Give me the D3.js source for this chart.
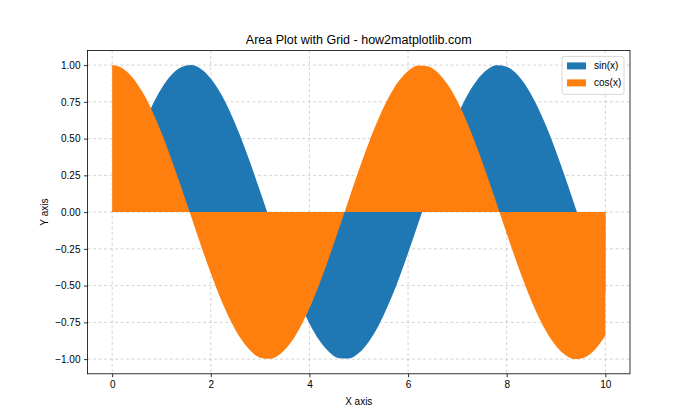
<!DOCTYPE html>
<head>
<meta charset="utf-8">
<title>Area Plot with Grid - how2matplotlib.com</title>
<script src="https://d3js.org/d3.v7.min.js"></script>
<style>
body { margin: 0; background: #fff; }
text { font-family: "Liberation Sans", Arial, sans-serif; fill: #000; }
.grid line { stroke: #b0b0b0; stroke-opacity: 0.7; stroke-width: 0.8; stroke-dasharray: 3,2.5; }
.axis path { stroke: #000; stroke-width: 0.8; }
.axis line { stroke: #000; stroke-width: 0.8; }
.axis text { font-size: 10px; }
</style>
</head>
<body>
<div id="container"></div>
<script>
// ---------- DATA ----------
var xs = [0, 0.2, 0.4, 0.6, 0.8, 1.0, 1.2, 1.4, 1.6, 1.8, 2.0, 2.2, 2.4, 2.6, 2.8, 3.0, 3.2, 3.4, 3.6, 3.8,
          4.0, 4.2, 4.4, 4.6, 4.8, 5.0, 5.2, 5.4, 5.6, 5.8, 6.0, 6.2, 6.4, 6.6, 6.8, 7.0, 7.2, 7.4, 7.6, 7.8,
          8.0, 8.2, 8.4, 8.6, 8.8, 9.0, 9.2, 9.4, 9.6, 9.8, 10.0];
var sinVals = [0, 0.199, 0.389, 0.565, 0.717, 0.841, 0.932, 0.985, 1.000, 0.974, 0.909, 0.808, 0.675, 0.516, 0.335, 0.141,
               -0.058, -0.256, -0.443, -0.612, -0.757, -0.872, -0.952, -0.994, -0.996, -0.959, -0.883, -0.773, -0.631, -0.465,
               -0.279, -0.083, 0.117, 0.312, 0.494, 0.657, 0.794, 0.899, 0.968, 0.999, 0.989, 0.941, 0.855, 0.734, 0.585,
               0.412, 0.223, 0.025, -0.175, -0.366, -0.544];
var cosVals = [1, 0.980, 0.921, 0.825, 0.697, 0.540, 0.362, 0.170, -0.029, -0.227, -0.416, -0.589, -0.737, -0.857, -0.942, -0.990,
               -0.998, -0.967, -0.897, -0.791, -0.654, -0.490, -0.307, -0.112, 0.087, 0.284, 0.469, 0.635, 0.776, 0.886,
               0.960, 0.997, 0.993, 0.950, 0.869, 0.754, 0.608, 0.438, 0.251, 0.054, -0.146, -0.339, -0.519, -0.679, -0.811,
               -0.911, -0.975, -1.000, -0.985, -0.931, -0.839];
var seriesNames = ["sin(x)", "cos(x)"];
var seriesColors = ["#1f77b4", "#ff7f0e"];
var xTicks = [0, 2, 4, 6, 8, 10];
var yTicks = [-1.00, -0.75, -0.50, -0.25, 0.00, 0.25, 0.50, 0.75, 1.00];

// ---------- SVG ----------
var W = 700, H = 420;
var margin = {top: 50.4, right: 70, bottom: 46.2, left: 87.5};
var width = W - margin.left - margin.right,
    height = H - margin.top - margin.bottom;

var svg = d3.select("#container").append("svg")
    .attr("width", W).attr("height", H)
  .append("g")
    .attr("transform", "translate(" + margin.left + "," + margin.top + ")");

// ---------- SCALES ----------
var x = d3.scaleLinear().domain([-0.5, 10.5]).range([0, width]);
var y = d3.scaleLinear().domain([-1.1, 1.1]).range([height, 0]);

// grid
svg.append("g").attr("class", "grid")
  .selectAll("line.v").data(xTicks).enter().append("line")
  .attr("x1", d => x(d)).attr("x2", d => x(d)).attr("y1", 0).attr("y2", height);
svg.select(".grid")
  .selectAll("line.h").data(yTicks).enter().append("line")
  .attr("x1", 0).attr("x2", width).attr("y1", d => y(d)).attr("y2", d => y(d));

// ---------- AREAS ----------
var slices = [sinVals, cosVals].map(function(vals, i) {
  return { name: seriesNames[i], color: seriesColors[i],
           values: xs.map(function(xv, j) { return {x: xv, v: vals[j]}; }) };
});

var area = d3.area()
    .x(d => x(d.x))
    .y0(y(0))
    .y1(d => y(d.v))
    .curve(d3.curveMonotoneX);

svg.selectAll(".area").data(slices).enter().append("path")
    .attr("class", "area")
    .attr("d", d => area(d.values))
    .attr("fill", d => d.color)
    .attr("stroke", "none");

// ---------- AXES ----------
var xAxis = d3.axisBottom(x).tickValues(xTicks).tickSize(3.5).tickPadding(3.5).tickFormat(d3.format("d"));
var yAxis = d3.axisLeft(y).tickValues(yTicks).tickSize(3.5).tickPadding(3.5).tickFormat(d3.format(".2f"));

var gx = svg.append("g").attr("class", "axis")
    .attr("transform", "translate(0," + height + ")").call(xAxis);
var gy = svg.append("g").attr("class", "axis").call(yAxis);
gx.select(".domain").remove();
gy.select(".domain").remove();
gx.selectAll("text").attr("font-family", null).attr("font-size", null);
gy.selectAll("text").attr("font-family", null).attr("font-size", null);

// frame
svg.append("rect").attr("x", 0).attr("y", 0).attr("width", width).attr("height", height)
    .attr("fill", "none").attr("stroke", "#000").attr("stroke-width", 0.8);

// ---------- LEGEND ----------
var lg = svg.append("g").attr("transform", "translate(" + (width - 68) + ",6)");
lg.append("rect").attr("width", 62).attr("height", 38).attr("rx", 2.5)
    .attr("fill", "#fff").attr("fill-opacity", 0.8)
    .attr("stroke", "#cccccc").attr("stroke-width", 0.8);
slices.forEach(function(s, i) {
  lg.append("rect").attr("x", 5).attr("y", 6 + i * 17).attr("width", 19).attr("height", 7)
      .attr("fill", s.color);
  lg.append("text").attr("x", 32).attr("y", 13 + i * 17).attr("font-size", "10px").text(s.name);
});

// ---------- TITLES ----------
svg.append("text").attr("x", width / 2).attr("y", -6).attr("text-anchor", "middle")
    .style("font-size", "12.5px").text("Area Plot with Grid - how2matplotlib.com");
svg.append("text").attr("x", width / 2).attr("y", height + 31).attr("text-anchor", "middle")
    .style("font-size", "10px").text("X axis");
svg.append("text").attr("transform", "translate(" + (-40) + "," + (height / 2) + ") rotate(-90)")
    .attr("text-anchor", "middle").style("font-size", "10px").text("Y axis");
</script>
</body>
